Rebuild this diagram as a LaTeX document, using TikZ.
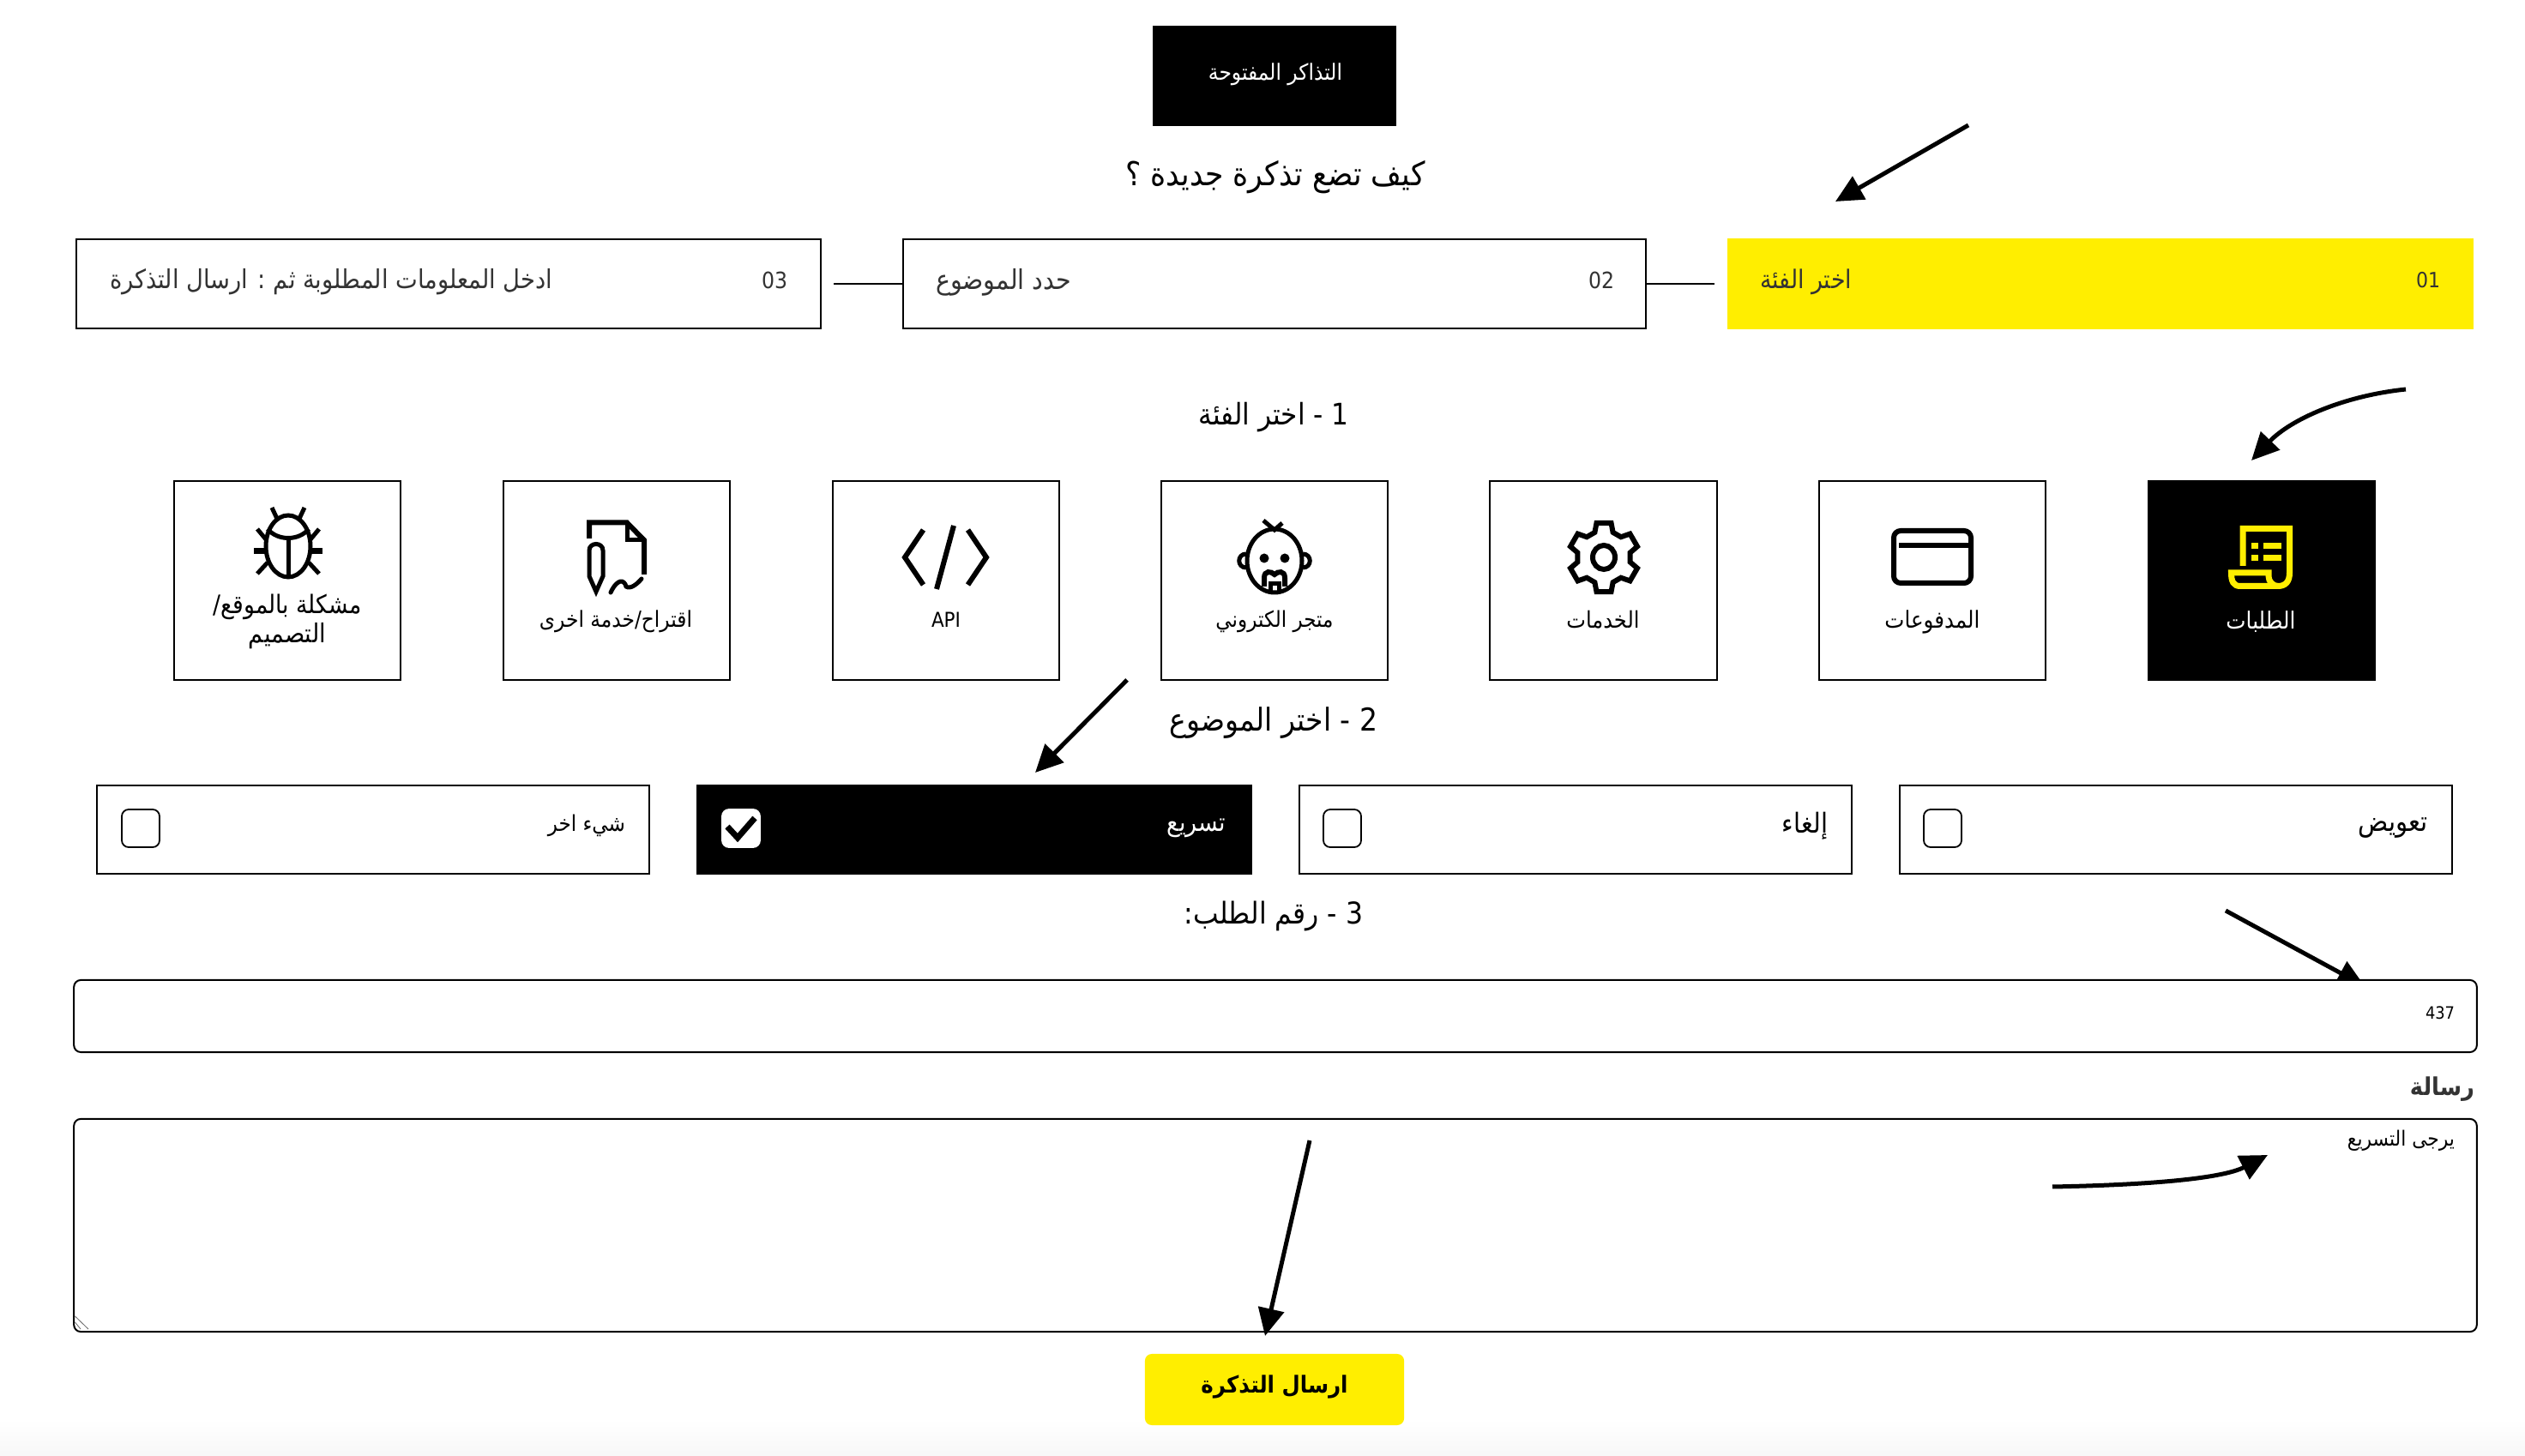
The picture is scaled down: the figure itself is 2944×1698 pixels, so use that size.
\documentclass[tikz,border=0pt]{standalone}
\usepackage{fontspec}
\usepackage{graphicx}
\usetikzlibrary{arrows.meta,calc}
\TeXXeTstate=1
\newfontfamily\arfont[Script=Arabic]{DejaVu Sans Condensed}
\newfontfamily\arbold[Script=Arabic]{DejaVu Sans Condensed Bold}
\newfontfamily\latfont{DejaVu Sans Condensed}
\definecolor{ticketyellow}{HTML}{FFEE00}
\newcommand\artxt[2]{\resizebox{#1cm}{!}{\arfont #2}}
\newcommand\arbtxt[2]{\resizebox{#1cm}{!}{\arbold #2}}
\newcommand\lattxt[2]{\resizebox{#1cm}{!}{\latfont #2}}
\tikzset{
  px/.style={x=0.01cm,y=-0.01cm},
  txt/.style={inner sep=0pt,outer sep=0pt,text=#1},
  txt/.default=black,
  rtxt/.style={txt=#1,anchor=east},
  rtxt/.default=black,
  ltxt/.style={txt=#1,anchor=west},
  ltxt/.default=black,
  stepbox/.style={draw=black,line width=0.02cm,fill=white,minimum width=8.67cm,minimum height=1.04cm,inner sep=0pt},
  stepyellow/.style={fill=ticketyellow,minimum width=8.70cm,minimum height=1.06cm,inner sep=0pt},
  cardbox/.style={draw=black,line width=0.02cm,fill=white,minimum width=2.64cm,minimum height=2.32cm,inner sep=0pt},
  cardblack/.style={fill=black,minimum width=2.66cm,minimum height=2.34cm,inner sep=0pt},
  optbox/.style={draw=black,line width=0.02cm,fill=white,minimum width=6.44cm,minimum height=1.02cm,inner sep=0pt},
  optblack/.style={fill=black,minimum width=6.48cm,minimum height=1.04cm,inner sep=0pt},
  checkbox/.style={draw=black,line width=0.018cm,fill=white,rounded corners=0.08cm,minimum width=0.44cm,minimum height=0.44cm,inner sep=0pt},
  fieldbox/.style={draw=black,line width=0.02cm,fill=white,rounded corners=0.08cm,inner sep=0pt},
  pointer/.style={draw=black,line width=0.05cm,-{Triangle[length=0.32cm,width=0.3cm]}},
  icon/.style={draw=black,line width=0.06cm,line cap=butt,line join=miter},
  link/.style={draw=black,line width=0.02cm},
}
\begin{document}
\begin{tikzpicture}[px]
\useasboundingbox (0,0) rectangle (2944,1698);
\fill[white] (0,0) rectangle (2944,1698);
\shade[top color=white,bottom color=black!3,draw=none] (0,1655) rectangle (2944,1698);

% header
\node[fill=black,minimum width=2.84cm,minimum height=1.17cm,inner sep=0pt] (open) at (1486,88.5) {};
\node[txt=white] (openT) at (1487,87) {\artxt{1.56}{\beginR التذاكر المفتوحة\endR}};
\node[txt] (title) at (1487,207) {\artxt{3.49}{\beginR كيف تضع تذكرة جديدة ؟\endR}};

% steps
\node[stepbox,minimum width=8.68cm] (s3) at (523,331) {};
\node[stepbox,minimum width=8.66cm] (s2) at (1486,331) {};
\node[stepyellow] (s1) at (2449,331) {};
\draw[link] ([xshift=0.14cm]s3.east) -- (s2.west);
\draw[link] (s2.east) -- ([xshift=-0.14cm]s1.west);
\node[txt=black!80] (n1) at (2831,327) {\lattxt{0.28}{01}};
\node[ltxt=black!80] (t1) at (2052,329) {\artxt{1.07}{\beginR اختر الفئة\endR}};
\node[txt=black!80] (n2) at (1867,327) {\lattxt{0.30}{02}};
\node[ltxt=black!80] (t2) at (1091,329) {\artxt{1.58}{\beginR حدد الموضوع\endR}};
\node[txt=black!80] (n3) at (903,327) {\lattxt{0.30}{03}};
\node[ltxt=black!80] (t3) at (128,329) {\artxt{5.16}{\beginR ادخل المعلومات المطلوبة ثم : ارسال التذكرة\endR}};

% section 1
\node[txt] (h1) at (1485,487) {\artxt{1.75}{\beginR 1 - اختر الفئة\endR}};
\node[cardblack] (c1) at (2637,677) {};
\node[cardbox] (c2) at (2253,677) {};
\node[cardbox] (c3) at (1869.5,677) {};
\node[cardbox] (c4) at (1486,677) {};
\node[cardbox] (c5) at (1103,677) {};
\node[cardbox] (c6) at (719,677) {};
\node[cardbox] (c7) at (335,677) {};
\node[txt=white] (l1) at (2636,725) {\artxt{0.81}{\beginR الطلبات\endR}};
\node[txt] (l2) at (2253,725) {\artxt{1.11}{\beginR المدفوعات\endR}};
\node[txt] (l3) at (1869,723) {\artxt{0.85}{\beginR الخدمات\endR}};
\node[txt] (l4) at (1486,725) {\artxt{1.37}{\beginR متجر الكتروني\endR}};
\node[txt] (l5) at (1103,723) {\lattxt{0.34}{API}};
\node[txt] (l6) at (718,725) {\artxt{1.78}{\beginR اقتراح/خدمة اخرى\endR}};
\node[txt] (l7a) at (335,708) {\artxt{1.73}{\beginR مشكلة بالموقع/\endR}};
\node[txt] (l7b) at (335,742) {\artxt{0.90}{\beginR التصميم\endR}};

% icon: receipt
\begin{scope}[draw=ticketyellow,fill=ticketyellow]
\draw[line width=0.07cm,line join=miter] (2615,660) -- (2615,616.5) -- (2669.5,616.5) -- (2669.5,668) .. controls (2669.5,678) and (2665,683.5) .. (2656,683.5) -- (2612,683.5) .. controls (2604,683.5) and (2601.5,678) .. (2601.5,668) -- (2645,668) -- (2645,672) .. controls (2645,678) and (2650,683.5) .. (2656,683.5);
\fill (2625,633) rectangle (2633,640);
\fill (2639,633) rectangle (2660,640);
\fill (2625,647) rectangle (2633,654);
\fill (2639,647) rectangle (2660,654);
\end{scope}

% icon: card
\draw[icon,rounded corners=0.08cm] (2208,619) rectangle (2298,680);
\fill[black] (2214,633) rectangle (2295,639);

% icon: gear
\begin{scope}[shift={(1870,650)}]
\draw[icon,line width=0.06cm] (78:41) \foreach \a in {90,150,210,270,330,390}{ -- (\a+12:41) -- (\a+20:31) -- (\a+40:31) -- (\a+48:41)} -- cycle;
\draw[icon,line width=0.06cm] (0,0) ellipse [x radius=13,y radius=14];
\end{scope}

% icon: face
\begin{scope}[shift={(1486,654)}]
\draw[icon,line width=0.05cm] (0,0) ellipse [x radius=32,y radius=37];
\draw[icon,line width=0.05cm] (-33,-8) .. controls (-44,-8) and (-44,8) .. (-33,8);
\draw[icon,line width=0.05cm] (33,-8) .. controls (44,-8) and (44,8) .. (33,8);
\fill[black] (-12,-3) circle [radius=5.5];
\fill[black] (12,-3) circle [radius=5.5];
\draw[icon,line width=0.05cm] (-13,-47) -- (0,-36) -- (9,-44);
\draw[icon,line width=0.06cm] (-12,30) -- (-12,20) .. controls (-12,11) and (-4,12) .. (0,16) .. controls (4,12) and (12,11) .. (12,20) -- (12,30);
\draw[icon,line width=0.05cm] (-5,38) -- (-5,27) -- (5,27) -- (5,38);
\end{scope}

% icon: code
\draw[icon] (1076.5,618) -- (1055,650) -- (1076.5,682);
\draw[icon] (1128.5,618) -- (1150,650) -- (1128.5,682);
\draw[icon] (1112,613) -- (1092,687);

% icon: document and pen
\draw[icon] (687,628) -- (687,609.5) -- (731,609.5) -- (751,630) -- (751,670);
\draw[icon,line width=0.05cm] (731,611) -- (731,630) -- (751,630);
\draw[icon,line width=0.05cm] (687,672) -- (687,642) .. controls (687,632) and (703,632) .. (703,642) -- (703,672) -- (695,690) -- cycle;
\draw[icon,line width=0.05cm,line cap=round] (712,691) .. controls (720,674) and (728,676) .. (730,684) .. controls (735,688) and (744,680) .. (748,675);

% icon: bug
\begin{scope}[shift={(336,637)}]
\draw[icon,line width=0.05cm] (0,0) ellipse [x radius=26,y radius=36];
\draw[icon,line width=0.05cm] (0,-10) -- (0,36);
\draw[icon,line width=0.05cm] (-24,-20) .. controls (-12,-6) and (12,-6) .. (24,-20);
\draw[icon,line width=0.05cm] (-19,-45) -- (-12,-30);
\draw[icon,line width=0.05cm] (19,-45) -- (12,-30);
\draw[icon,line width=0.05cm] (-36,-20) -- (-26,-8);
\draw[icon,line width=0.05cm] (36,-20) -- (26,-8);
\draw[icon,line width=0.07cm] (-40,6) -- (-26,6);
\draw[icon,line width=0.07cm] (40,6) -- (26,6);
\draw[icon,line width=0.05cm] (-36,32) -- (-24,19);
\draw[icon,line width=0.05cm] (36,32) -- (24,19);
\end{scope}

% section 2
\node[txt] (h2) at (1485,843) {\artxt{2.42}{\beginR 2 - اختر الموضوع\endR}};
\node[optbox] (o1) at (2537,967.5) {};
\node[optbox] (o2) at (1837,967.5) {};
\node[optblack] (o3) at (1136,967.5) {};
\node[optbox] (o4) at (435,967.5) {};
\node[rtxt] (ot1) at (2831,966) {\artxt{0.81}{\beginR تعويض\endR}};
\node[rtxt] (ot2) at (2131,963) {\artxt{0.53}{\beginR إلغاء\endR}};
\node[rtxt=white] (ot3) at (1429,966) {\artxt{0.68}{\beginR تسريع\endR}};
\node[rtxt] (ot4) at (729,963) {\artxt{0.90}{\beginR شيء اخر\endR}};
\node[checkbox] (b1) at (2265,966) {};
\node[checkbox] (b2) at (1565,966) {};
\node[checkbox,draw=white] (b3) at (864,966) {};
\node[checkbox] (b4) at (164,966) {};
\draw[icon,line width=0.07cm] (848,964) -- (860,977) -- (880,954);

% section 3
\node[txt] (h3) at (1485,1069) {\artxt{2.08}{\beginR 3 - رقم الطلب:\endR}};
\coordinate (a4s) at (2595,1062);
\coordinate (a4e) at (2757,1150);
\draw[pointer] (a4s) -- (a4e);
\node[fieldbox,minimum width=28cm,minimum height=0.84cm] (num) at (1487,1185) {};
\node[txt] (numT) at (2845,1181) {\lattxt{0.34}{437}};
\node[rtxt=black!80] (msgL) at (2885,1270) {\arbtxt{0.75}{\beginR رسالة\endR}};
\node[fieldbox,minimum width=28cm,minimum height=2.48cm] (msg) at (1487,1429) {};
\node[rtxt] (msgT) at (2862,1330) {\artxt{1.25}{\beginR يرجى التسريع\endR}};
\coordinate (r1) at (87.5,1535); \coordinate (r2) at (103,1550);
\coordinate (r3) at (87.5,1542); \coordinate (r4) at (94,1550);
\draw[draw=black!60,line width=0.008cm] (r1) -- (r2) (r3) -- (r4);

% button
\node[fill=ticketyellow,rounded corners=0.08cm,minimum width=3.02cm,minimum height=0.83cm,inner sep=0pt] (send) at (1486,1620.5) {};
\node[txt] (sendT) at (1486,1617) {\arbtxt{1.71}{\beginR ارسال التذكرة\endR}};

% pointers
\coordinate (a1s) at (2295,146); \coordinate (a1e) at (2140,235);
\draw[pointer] (a1s) -- (a1e);
\coordinate (a2s) at (2805,454); \coordinate (a2e) at (2625,537);
\draw[pointer] (a2s) .. controls (2730,462) and (2670,490) .. (a2e);
\coordinate (a3s) at (1314,793); \coordinate (a3e) at (1207,901);
\draw[pointer] (a3s) -- (a3e);
\coordinate (a5s) at (2393,1384); \coordinate (a5e) at (2644,1347);
\draw[pointer] (a5s) .. controls (2500,1382) and (2590,1375) .. (a5e);
\coordinate (a6s) at (1527,1330); \coordinate (a6e) at (1475,1558);
\draw[pointer] (a6s) -- (a6e);
\end{tikzpicture}
\end{document}
